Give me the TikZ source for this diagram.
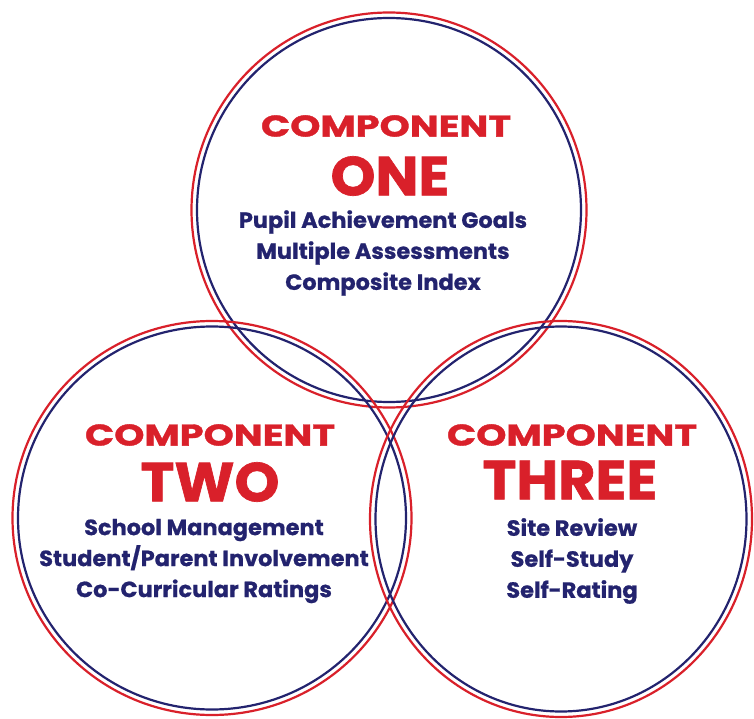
\documentclass[tikz,border=0pt]{standalone}
\usepackage{fontspec}
\setmainfont{Poppins}
\newfontfamily\headfont{Poppins}[FakeStretch=1.28, FakeBold=1.2]
\newfontfamily\numfont{Poppins}[FakeStretch=1.04, FakeBold=1.2]
\newfontfamily\listfont{Poppins}[FakeStretch=1.02, FakeBold=0.8]
\usetikzlibrary{positioning}
\definecolor{ringred}{HTML}{D9202A}
\definecolor{ringnavy}{HTML}{23236E}

\tikzset{
  outerring/.style={draw=ringred, line width=2.2pt},
  innerring/.style={draw=ringnavy, line width=2.2pt},
  headword/.style={text=ringred, font=\headfont\bfseries\fontsize{30}{30}\selectfont, inner sep=0pt},
  numword/.style={text=ringred, font=\numfont\bfseries\fontsize{55}{55}\selectfont, inner sep=0pt},
  itemlist/.style={text=ringnavy, font=\listfont\bfseries\fontsize{22}{31}\selectfont, align=center, inner sep=0pt}
}

\begin{document}
\begin{tikzpicture}[x=1pt, y=-1pt]
  \useasboundingbox (0,0) rectangle (754,719);
  % circle centres
  \coordinate (one) at (389,210);
  \coordinate (two) at (212,518);
  \coordinate (three) at (561,519);
  % rings
  \draw[outerring] (one) circle [radius=197.5pt];
  \draw[innerring] (one) circle [radius=192pt];
  \draw[outerring] (two) circle [x radius=199.5pt, y radius=197pt];
  \draw[innerring] (two) circle [x radius=194pt, y radius=191.5pt];
  \draw[outerring] (three) circle [x radius=191pt, y radius=198pt];
  \draw[innerring] (three) circle [x radius=185.5pt, y radius=192.5pt];
  % component one
  \node[headword] (head1) at (386,126) {COMPONENT};
  \node[numword] (num1) at (390,176) {ONE};
  \node[itemlist] (list1) at (383,253) {Pupil Achievement Goals\\Multiple Assessments\\Composite Index};
  % component two
  \node[headword] (head2) at (210,435) {COMPONENT};
  \node[numword] (num2) at (210,482) {TWO};
  \node[itemlist] (list2) at (204,561) {School Management\\Student/Parent Involvement\\Co-Curricular Ratings};
  % component three
  \node[headword] (head3) at (572,435) {COMPONENT};
  \node[numword] (num3) at (570,480) {THREE};
  \node[itemlist] (list3) at (572,561) {Site Review\\Self-Study\\Self-Rating};
\end{tikzpicture}
\end{document}
